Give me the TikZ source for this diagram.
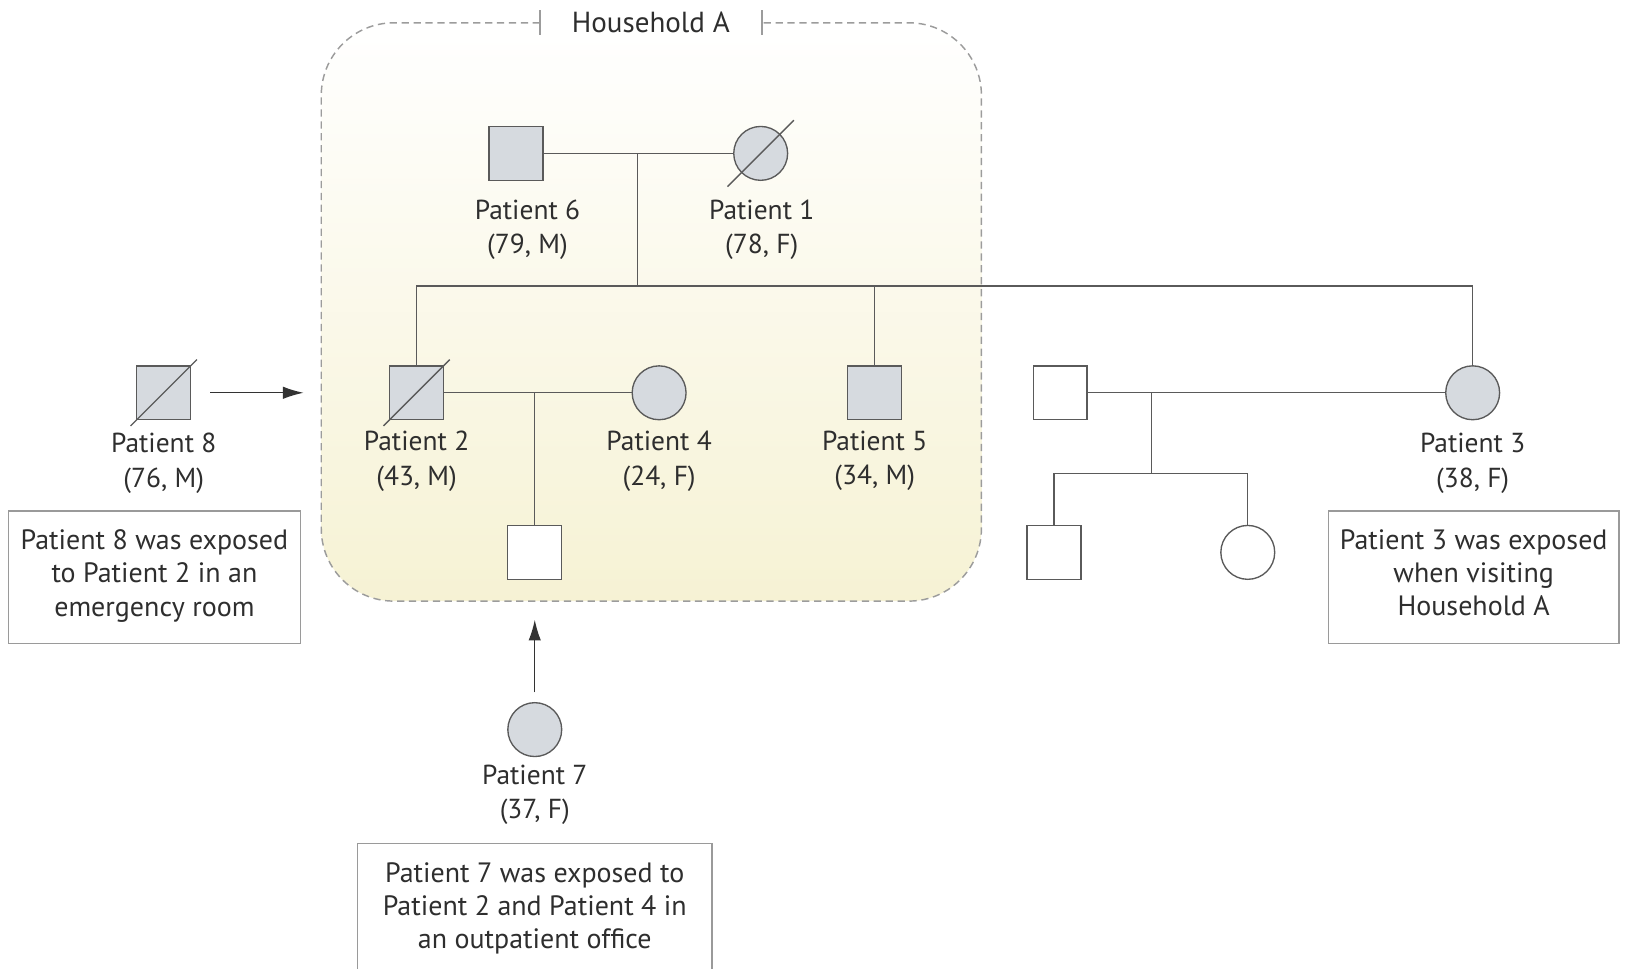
\documentclass[tikz,border=0pt]{standalone}
\usepackage{fontspec}
\setmainfont{PT Sans}
\usetikzlibrary{arrows.meta,calc}
\definecolor{symfill}{HTML}{D6DADF}
\definecolor{linec}{HTML}{5A5A5A}
\definecolor{txtc}{HTML}{2E2E2E}
\definecolor{boxc}{HTML}{9A9A9A}
\definecolor{hhtop}{HTML}{FFFFFF}
\definecolor{hhbot}{HTML}{F6F2D4}
\definecolor{hhline}{HTML}{9C9C9C}
\begin{document}
\begin{tikzpicture}[x=1pt,y=-1pt,
  male/.style={draw=linec, line width=1.3pt, minimum size=52pt, inner sep=0pt, fill=symfill},
  female/.style={circle, draw=linec, line width=1.3pt, minimum size=52pt, inner sep=0pt, fill=symfill},
  unaff/.style={fill=white},
  lab/.style={font=\fontsize{26.5}{33}\selectfont, text=txtc, align=center, inner sep=0pt},
  notebox/.style={draw=boxc, line width=1.5pt, inner sep=0pt, minimum height=128pt},
  notetext/.style={font=\fontsize{27}{32}\selectfont, text=txtc, align=center, inner sep=0pt, anchor=north},
  rel/.style={draw=linec, line width=1.3pt},
  arr/.style={draw=black!80, line width=1.3pt, -{Latex[length=20pt,width=12pt]}},
  dec/.style={draw=linec, line width=1.3pt}
]
\useasboundingbox (0,0) rectangle (1568,935);
\clip (0,0) rectangle (1568,935);

% household
\shade[top color=hhtop, bottom color=hhbot, rounded corners=70pt] (310,22) rectangle (947,580);
\draw[hhline, dash pattern=on 7pt off 4.5pt, line width=1.4pt, rounded corners=70pt] (521,22) -- (310,22) -- (310,580) -- (947,580) -- (947,22) -- (735,22);
\draw[hhline, line width=1.5pt] (521,10) -- (521,34);
\draw[hhline, line width=1.5pt] (735,10) -- (735,34);
\node[lab, font=\fontsize{28}{33}\selectfont] (hh) at (628,22) {Household A};

% symbols
\node[male] (p6) at (498,148) {};
\node[female] (p1) at (734,148) {};
\node[male] (p2) at (402,379) {};
\node[female] (p4) at (636,379) {};
\node[male] (p5) at (844,379) {};
\node[male, unaff] (c1) at (516,533) {};
\node[male] (p8) at (158,379) {};
\node[male, unaff] (sp) at (1023,379) {};
\node[female] (p3) at (1421,379) {};
\node[male, unaff] (ch1) at (1017,533) {};
\node[female, unaff] (ch2) at (1204,533) {};
\node[female] (p7) at (516,704) {};

% deceased marks
\draw[dec] ($(p1)+(-32,32)$) -- ($(p1)+(32,-32)$);
\draw[dec] ($(p2)+(-32,32)$) -- ($(p2)+(32,-32)$);
\draw[dec] ($(p8)+(-32,32)$) -- ($(p8)+(32,-32)$);

% labels
\node[lab] (l6) at (509,222) {Patient 6\\(79, M)};
\node[lab] (l1) at (735,222) {Patient 1\\(78, F)};
\node[lab] (l2) at (402,445) {Patient 2\\(43, M)};
\node[lab] (l4) at (636,445) {Patient 4\\(24, F)};
\node[lab] (l5) at (844,445) {Patient 5\\(34, M)};
\node[lab] (l8) at (158,447) {Patient 8\\(76, M)};
\node[lab] (l3) at (1421,447) {Patient 3\\(38, F)};
\node[lab] (l7) at (516,767) {Patient 7\\(37, F)};

% notes
\node[notebox, minimum width=282pt] (n8) at (149,557) {};
\node[notetext] (t8) at (149,511) {Patient 8 was exposed\\to Patient 2 in an\\emergency room};
\node[notebox, minimum width=280pt] (n3) at (1422,557) {};
\node[notetext] (t3) at (1422,511) {Patient 3 was exposed\\when visiting\\Household A};
\node[notebox, minimum width=342pt] (n7) at (516,878) {};
\node[notetext] (t7) at (516,832) {Patient 7 was exposed to\\Patient 2 and Patient 4 in\\an outpatient office};

% relationships
\coordinate (m1) at (615,148);
\coordinate (s1) at (615,276);
\draw[rel] (p6.east) -- (p1.west);
\draw[rel] (m1) -- (s1);
\draw[rel] (p2.north) -- (p2.north |- s1) -- (p3.north |- s1) -- (p3.north);
\draw[rel] (p5.north) -- (p5.north |- s1);

\coordinate (m2) at (516,379);
\draw[rel] (p2.east) -- (p4.west);
\draw[rel] (m2) -- (c1.north);

\coordinate (m3) at (1111,379);
\coordinate (s3) at (1111,457);
\draw[rel] (sp.east) -- (p3.west);
\draw[rel] (m3) -- (s3);
\draw[rel] (ch1.north) |- (s3) -| (ch2.north);

% exposure arrows
\coordinate (a8s) at (203,379);
\coordinate (a8e) at (293,379);
\draw[arr] (a8s) -- (a8e);
\coordinate (a7s) at (516,668);
\coordinate (a7e) at (516,598);
\draw[arr] (a7s) -- (a7e);
\end{tikzpicture}
\end{document}
